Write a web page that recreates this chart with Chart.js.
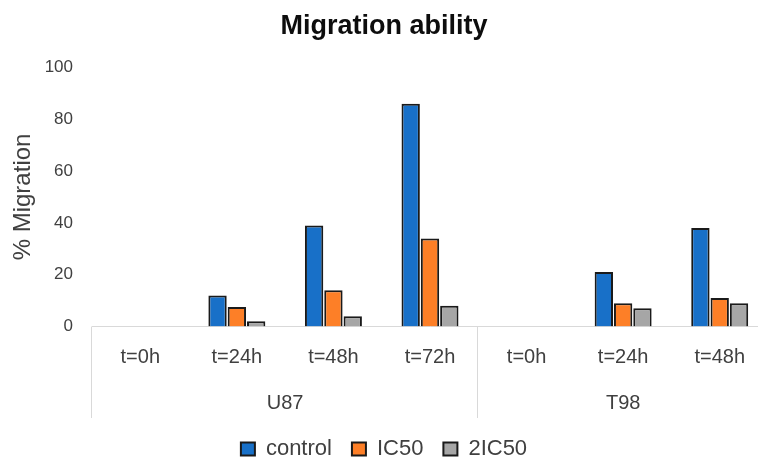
<!DOCTYPE html>
<html>
<head>
<meta charset="utf-8">
<script src="https://cdn.jsdelivr.net/npm/chart.js@4/dist/chart.umd.min.js"></script>
<style>
  html, body { margin: 0; padding: 0; background: #fff; overflow: hidden; }
  #wrap { width: 776px; height: 470px; }
</style>
</head>
<body>
<div id="wrap"><canvas id="c" width="776" height="470"></canvas></div>
<script>
// Time points along the x axis, grouped by cell line
const timeLabels = ['t=0h', 't=24h', 't=48h', 't=72h', 't=0h', 't=24h', 't=48h'];
const cellLines = ['U87', 'T98'];
const cellLineSizes = [4, 3];

// % migration per treatment
const controlValues = [0, 12, 39, 86, 0, 21, 38];
const ic50Values = [0, 7.5, 14, 34, 0, 9, 11];
const twoIc50Values = [0, 2, 4, 8, 0, 7, 9];

// Y axis ticks
const yMin = 0;
const yMax = 100;
const yStep = 20;

const FONT = "'Liberation Sans', Arial, sans-serif";
const TEXT = '#404040';
const AXIS = '#d9d9d9';

// Second category level: cell line names and separators below the time labels
const groupAxisPlugin = {
  id: 'groupAxis',
  afterDraw(chart) {
    const xs = chart.scales.x;
    const ctx = chart.ctx;
    const step = xs.getPixelForValue(1) - xs.getPixelForValue(0);
    ctx.save();
    ctx.strokeStyle = AXIS;
    ctx.lineWidth = 1;
    ctx.fillStyle = TEXT;
    ctx.font = '20px ' + FONT;
    ctx.textAlign = 'center';
    ctx.textBaseline = 'middle';
    let start = 0;
    let right = 0;
    const line = (x) => {
      const px = Math.floor(x - 0.5) + 0.5;
      ctx.beginPath();
      ctx.moveTo(px, xs.top);
      ctx.lineTo(px, xs.bottom);
      ctx.stroke();
    };
    cellLines.forEach((name, g) => {
      const size = cellLineSizes[g];
      const left = xs.getPixelForValue(start) - step / 2;
      right = xs.getPixelForValue(start + size - 1) + step / 2;
      line(left);
      ctx.fillText(name, (left + right) / 2, xs.top + 76.5);
      start += size;
    });
    line(right);
    ctx.restore();
  }
};

const barStyle = {
  borderColor: '#1a1a1a',
  borderWidth: 2,
  barPercentage: 0.95,
  categoryPercentage: 0.6
};

new Chart(document.getElementById('c'), {
  type: 'bar',
  data: {
    labels: timeLabels,
    datasets: [
      Object.assign({ label: 'control', data: controlValues, backgroundColor: '#1870c8' }, barStyle),
      Object.assign({ label: 'IC50', data: ic50Values, backgroundColor: '#fd7f27' }, barStyle),
      Object.assign({ label: '2IC50', data: twoIc50Values, backgroundColor: '#a6a6a6' }, barStyle)
    ]
  },
  options: {
    responsive: false,
    animation: false,
    layout: { padding: { left: 0, right: 8, top: 0, bottom: 0 } },
    plugins: {
      title: {
        display: true,
        text: 'Migration ability',
        color: '#0d0d0d',
        font: { family: FONT, size: 27, weight: 'bold' },
        padding: { top: 10, bottom: 25 }
      },
      legend: {
        position: 'bottom',
        labels: {
          color: TEXT,
          font: { family: FONT, size: 22 },
          boxWidth: 14,
          boxHeight: 13,
          padding: 20
        }
      },
      tooltip: { enabled: false }
    },
    scales: {
      x: {
        grid: { display: false, drawTicks: false },
        border: { display: true, color: AXIS, width: 1 },
        ticks: {
          color: TEXT,
          font: { family: FONT, size: 20 },
          padding: 19,
          maxRotation: 0,
          autoSkip: false
        },
        afterFit(scale) { scale.height = 91.5; }
      },
      y: {
        min: yMin,
        max: yMax,
        grid: { display: false, drawTicks: false },
        border: { display: false },
        ticks: {
          stepSize: yStep,
          color: TEXT,
          font: { family: FONT, size: 17 },
          padding: 19
        },
        title: {
          display: true,
          text: '% Migration',
          color: TEXT,
          font: { family: FONT, size: 24 },
          padding: { top: 9, bottom: 0 }
        },
        afterFit(scale) { scale.width = 92; }
      }
    }
  },
  plugins: [groupAxisPlugin]
});
</script>
</body>
</html>
